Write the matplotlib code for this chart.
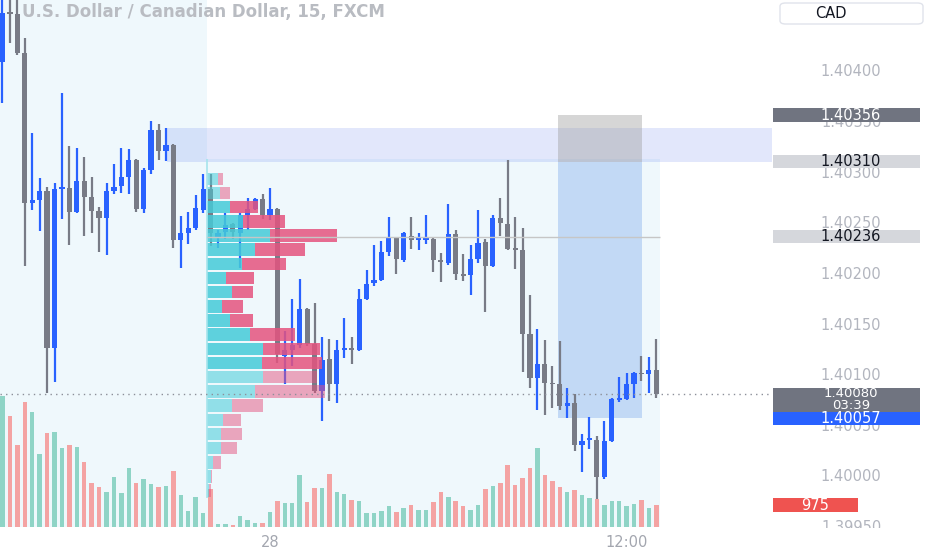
import matplotlib
matplotlib.use("Agg")
import matplotlib.pyplot as plt
import matplotlib.transforms as mtransforms
from matplotlib.patches import Rectangle, FancyBboxPatch

# ---------------- data (USD/CAD, 15 min, FXCM) ----------------
opens = [1.40408, 1.40458, 1.40456, 1.40417, 1.40269, 1.40272, 1.40281, 1.40126, 1.40283, 1.40284,
         1.40260, 1.40291, 1.40275, 1.40261, 1.40254, 1.40281, 1.40286, 1.40295, 1.40312, 1.40263,
         1.40302, 1.40341, 1.40320, 1.40326, 1.40233, 1.40239, 1.40244, 1.40262, 1.40283, 1.40236,
         1.40240, 1.40248, 1.40239, 1.40257, 1.40263, 1.40273, 1.40257, 1.40263, 1.40118, 1.40124,
         1.40129, 1.40164, 1.40130, 1.40083, 1.40115, 1.40090, 1.40124, 1.40125, 1.40124, 1.40174,
         1.40190, 1.40193, 1.40221, 1.40235, 1.40213, 1.40237, 1.40233, 1.40233, 1.40234, 1.40213,
         1.40210, 1.40238, 1.40198, 1.40198, 1.40214, 1.40231, 1.40207, 1.40254, 1.40248, 1.40224,
         1.40223, 1.40140, 1.40096, 1.40110, 1.40091, 1.40090, 1.40069, 1.40072, 1.40030, 1.40035,
         1.40035, 1.39998, 1.40034, 1.40075, 1.40076, 1.40090, 1.40101, 1.40100, 1.40104]
highs = [1.40480, 1.40475, 1.40472, 1.40432, 1.40338, 1.40294, 1.40285, 1.40289, 1.40378, 1.40325,
         1.40323, 1.40315, 1.40295, 1.40265, 1.40289, 1.40308, 1.40323, 1.40322, 1.40313, 1.40304,
         1.40350, 1.40347, 1.40343, 1.40327, 1.40256, 1.40260, 1.40277, 1.40298, 1.40298, 1.40242,
         1.40259, 1.40249, 1.40259, 1.40274, 1.40274, 1.40278, 1.40284, 1.40264, 1.40143, 1.40174,
         1.40194, 1.40165, 1.40170, 1.40137, 1.40135, 1.40134, 1.40156, 1.40137, 1.40184, 1.40203,
         1.40228, 1.40232, 1.40255, 1.40236, 1.40240, 1.40255, 1.40239, 1.40257, 1.40235, 1.40220,
         1.40268, 1.40242, 1.40219, 1.40228, 1.40262, 1.40234, 1.40257, 1.40274, 1.40312, 1.40255,
         1.40244, 1.40178, 1.40145, 1.40134, 1.40108, 1.40133, 1.40086, 1.40080, 1.40041, 1.40058,
         1.40039, 1.40054, 1.40077, 1.40097, 1.40101, 1.40102, 1.40118, 1.40117, 1.40135]
lows = [1.40368, 1.40427, 1.40415, 1.40207, 1.40262, 1.40241, 1.40081, 1.40092, 1.40253, 1.40228,
        1.40259, 1.40237, 1.40239, 1.40221, 1.40218, 1.40278, 1.40279, 1.40278, 1.40260, 1.40259,
        1.40298, 1.40312, 1.40311, 1.40225, 1.40205, 1.40229, 1.40242, 1.40259, 1.40227, 1.40225,
        1.40234, 1.40234, 1.40205, 1.40242, 1.40262, 1.40253, 1.40252, 1.40111, 1.40090, 1.40108,
        1.40126, 1.40128, 1.40081, 1.40054, 1.40074, 1.40072, 1.40116, 1.40110, 1.40123, 1.40173,
        1.40187, 1.40192, 1.40217, 1.40199, 1.40211, 1.40224, 1.40223, 1.40229, 1.40201, 1.40191,
        1.40208, 1.40193, 1.40192, 1.40178, 1.40210, 1.40161, 1.40206, 1.40237, 1.40223, 1.40204,
        1.40102, 1.40086, 1.40065, 1.40060, 1.40067, 1.40065, 1.40057, 1.40024, 1.40003, 1.40026,
        1.39977, 1.39997, 1.40033, 1.40073, 1.40075, 1.40077, 1.40093, 1.40081, 1.40077]
closes = [1.40457, 1.40456, 1.40417, 1.40269, 1.40272, 1.40281, 1.40126, 1.40283, 1.40284, 1.40260,
          1.40291, 1.40275, 1.40261, 1.40254, 1.40281, 1.40285, 1.40295, 1.40312, 1.40263, 1.40302,
          1.40341, 1.40320, 1.40326, 1.40233, 1.40239, 1.40244, 1.40264, 1.40283, 1.40239, 1.40239,
          1.40247, 1.40240, 1.40257, 1.40263, 1.40273, 1.40257, 1.40263, 1.40120, 1.40124, 1.40129,
          1.40164, 1.40130, 1.40083, 1.40114, 1.40090, 1.40124, 1.40125, 1.40124, 1.40174, 1.40189,
          1.40193, 1.40221, 1.40235, 1.40214, 1.40239, 1.40233, 1.40235, 1.40235, 1.40213, 1.40211,
          1.40238, 1.40199, 1.40197, 1.40214, 1.40230, 1.40207, 1.40254, 1.40249, 1.40224, 1.40223,
          1.40140, 1.40096, 1.40110, 1.40091, 1.40090, 1.40069, 1.40072, 1.40030, 1.40034, 1.40036,
          1.39998, 1.40034, 1.40076, 1.40077, 1.40090, 1.40101, 1.40100, 1.40104, 1.40080]
volumes = [5800, 4920, 3630, 5540, 5100, 3230, 4170, 4210, 3500, 3630,
           3540, 2880, 1950, 1770, 1550, 2220, 1510, 2610, 1950, 2130,
           1900, 1770, 1820, 2480, 1420, 710, 1330, 620, 1680, 130,
           130, 90, 490, 310, 180, 180, 660, 1150, 1060, 1060,
           2300, 1110, 1730, 1730, 2350, 1550, 1460, 1200, 1150, 620,
           620, 710, 930, 660, 840, 970, 750, 750, 1110, 1550,
           1330, 1150, 930, 750, 975, 1680, 1820, 1950, 2750, 1860,
           2170, 2610, 3500, 2300, 2040, 1770, 1550, 1640, 1420, 1280,
           1240, 975, 1150, 1150, 930, 1020, 1200, 840, 975]

time_tick_bars = [36, 84]
time_tick_labels = ["28", "12:00"]
price_ticks = [1.39950, 1.40000, 1.40050, 1.40100, 1.40150, 1.40200,
               1.40250, 1.40300, 1.40350, 1.40400]

# Fixed-range volume profile (rows from top to bottom)
vp_start_bar = 27.5
vp_end_bar = 88.5
vp_high = 1.40313
vp_row_prices = [1.40293, 1.40279, 1.40265, 1.40251, 1.40237, 1.40223, 1.40209, 1.40195,
                 1.40181, 1.40167, 1.40153, 1.40139, 1.40125, 1.40111, 1.40097, 1.40083,
                 1.40069, 1.40055, 1.40041, 1.40027, 1.40013, 1.39999, 1.39985]
vp_row_step = 0.00014
vp_up = [11, 13, 23, 36, 63, 48, 35, 19, 25, 15, 23, 43, 56, 55, 56, 48, 25, 16, 14, 14, 6, 4, 2]
vp_down = [5, 10, 28, 42, 67, 50, 44, 28, 21, 21, 23, 45, 57, 60, 54, 70, 31, 18, 21, 16, 8, 1, 2]
vp_value_area = [False, False, True, True, True, True, True, True, True, True, True, True,
                 True, True, False, False, False, False, False, False, False, False, False]
poc_price = 1.40236

# Drawings
zone_start_bar = 22.2
zone_low, zone_high = 1.40310, 1.40343
pos_start_bar, pos_end_bar = 74.8, 86.1
pos_stop, pos_entry, pos_target = 1.40356, 1.40310, 1.40057
last_price = 1.40080
countdown = "03:39"
last_volume = 975

# ---------------- layout ----------------
W, H = 932, 550
fig = plt.figure(figsize=(W / 100, H / 100), dpi=100)
fig.patch.set_facecolor("white")
plot_right = 772
plot_bottom = 527
rect = [0, 1 - plot_bottom / H, plot_right / W, plot_bottom / H]

ax_bg = fig.add_axes(rect, zorder=0)
ax_vol = fig.add_axes(rect, zorder=1)
ax = fig.add_axes(rect, zorder=2)

xlim = (-0.336, 103.57)
ylim = (1.399491, 1.404696)
for a in (ax_bg, ax_vol, ax):
    a.set_xlim(*xlim)
    for s in a.spines.values():
        s.set_visible(False)
    a.patch.set_alpha(0)
ax_bg.set_ylim(*ylim)
ax.set_ylim(*ylim)
ax_vol.set_ylim(0, last_volume / 22 * plot_bottom)
for a in (ax_bg, ax_vol):
    a.set_xticks([])
    a.set_yticks([])

BG = "#eff8fc"
UP = "#2962ff"
DOWN = "#787b86"
VUP = "#8fd4c6"
VDOWN = "#f4a3a3"

# background shading
ax_bg.add_patch(Rectangle((xlim[0], ylim[0]), vp_start_bar - xlim[0], ylim[1] - ylim[0],
                          facecolor=BG, edgecolor="none"))
ax_bg.add_patch(Rectangle((vp_start_bar, ylim[0]), vp_end_bar - vp_start_bar, vp_high - ylim[0],
                          facecolor=BG, edgecolor="none"))

# volume bars
idx = list(range(len(opens)))
vcol = [VUP if c >= o else VDOWN for o, c in zip(opens, closes)]
ax_vol.bar(idx, volumes, width=0.6, color=vcol, linewidth=0)

# zone and position box
ax.add_patch(Rectangle((zone_start_bar, zone_low), xlim[1] - zone_start_bar, zone_high - zone_low,
                       facecolor="#3f5fe8", alpha=0.15, edgecolor="none", zorder=1))
ax.add_patch(Rectangle((pos_start_bar, pos_entry), pos_end_bar - pos_start_bar, pos_stop - pos_entry,
                       facecolor="#9a9a9a", alpha=0.4, edgecolor="none", zorder=1.5))
ax.add_patch(Rectangle((pos_start_bar, pos_target), pos_end_bar - pos_start_bar, pos_entry - pos_target,
                       facecolor="#9ec0f0", alpha=0.55, edgecolor="none", zorder=1.5))

# candles
ccol = [UP if c >= o else DOWN for o, c in zip(opens, closes)]
ax.vlines(idx, lows, highs, colors=ccol, linewidth=1.6, zorder=3)
body_h = [max(abs(c - o), 0.000016) for o, c in zip(opens, closes)]
body_b = [min(o, c) for o, c in zip(opens, closes)]
ax.bar(idx, body_h, bottom=body_b, width=0.7, color=ccol, linewidth=0, zorder=3)

# volume profile
vp_scale = 17.5 / max(u + d for u, d in zip(vp_up, vp_down))
for p, u, d, va in zip(vp_row_prices, vp_up, vp_down, vp_value_area):
    a_up = 0.85 if va else 0.55
    a_dn = 0.85 if va else 0.5
    ax.barh(p, u * vp_scale, left=vp_start_bar, height=vp_row_step * 0.88,
            color="#45cbd8", alpha=a_up, linewidth=0, zorder=4)
    ax.barh(p, d * vp_scale, left=vp_start_bar + u * vp_scale, height=vp_row_step * 0.88,
            color="#e5537f", alpha=a_dn, linewidth=0, zorder=4)
ax.vlines(vp_start_bar, vp_row_prices[-1] - vp_row_step / 2, vp_high,
          colors="#a6e4ec", linewidth=1.2, zorder=4)
ax.hlines(poc_price, vp_start_bar, vp_end_bar, colors="#c6c6c6", linewidth=1, zorder=5)

# last price dotted line
ax.axhline(last_price, color="#8c8f99", linewidth=1, linestyle=(0, (1, 3)), zorder=5)

# axes ticks
ax.yaxis.tick_right()
ax.set_yticks(price_ticks)
ax.set_yticklabels([f"{p:.5f}" for p in price_ticks])
ax.tick_params(axis="y", length=0, pad=57, labelsize=10.5, labelcolor="#b2b5be")
for lab in ax.get_yticklabels():
    lab.set_horizontalalignment("center")
ax.set_xticks(time_tick_bars)
ax.set_xticklabels(time_tick_labels)
ax.tick_params(axis="x", length=0, pad=6, labelsize=10.5, labelcolor="#a3a6af")

# price-scale labels
trans = mtransforms.blended_transform_factory(fig.transFigure, ax.transData)
bx0, bw, tx = 773 / W, 147 / W, 851 / W
half = 0.000065


def price_box(lo, hi, face):
    ax.add_patch(Rectangle((bx0, lo), bw, hi - lo, transform=trans, facecolor=face,
                           edgecolor="none", clip_on=False, zorder=6))


def box_text(y, s, color, size=10.5):
    ax.text(tx, y, s, transform=trans, ha="center", va="center", color=color,
            fontsize=size, clip_on=False, zorder=7)


price_box(pos_stop - half, pos_stop + half, "#707480")
box_text(pos_stop, f"{pos_stop:.5f}", "white")
price_box(pos_entry - half, pos_entry + half, "#d5d7dc")
box_text(pos_entry, f"{pos_entry:.5f}", "#131722")
price_box(poc_price - half, poc_price + half, "#d5d7dc")
box_text(poc_price, f"{poc_price:.5f}", "#131722")
price_box(last_price - 0.00017, last_price + 0.000065, "#707480")
box_text(last_price + 0.000005, f"{last_price:.5f}", "white", 9.5)
box_text(last_price - 0.000105, countdown, "white", 9.5)
price_box(last_price - 0.0003, last_price - 0.00017, UP)
box_text(pos_target - 0.000005, f"{pos_target:.5f}", "white")

vtrans = mtransforms.blended_transform_factory(fig.transFigure, ax_vol.transData)
vh = 7 * last_volume / 22
ax_vol.add_patch(Rectangle((bx0, last_volume - vh), 85 / W, 2 * vh, transform=vtrans,
                           facecolor="#ef5350", edgecolor="none", clip_on=False, zorder=6))
ax_vol.text(815 / W, last_volume, str(last_volume), transform=vtrans, ha="center", va="center",
            color="white", fontsize=10.5, clip_on=False, zorder=7)

# cover for the time-scale strip under the price scale
fig.add_artist(Rectangle((plot_right / W, 0), (W - plot_right) / W, (H - plot_bottom - 1) / H,
                         transform=fig.transFigure, facecolor="white", edgecolor="none", zorder=3))

# currency button
fig.add_artist(FancyBboxPatch((780 / W, 1 - 24 / H), 143 / W, 21 / H,
                              boxstyle="round,pad=0,rounding_size=0.006",
                              transform=fig.transFigure, facecolor="white",
                              edgecolor="#e0e3eb", linewidth=1, zorder=4))
fig.text(831 / W, 1 - 13.5 / H, "CAD", ha="center", va="center", fontsize=10.5,
         color="#131722", zorder=5)

# title
fig.text(22 / W, 1 - 12 / H, "U.S. Dollar / Canadian Dollar, 15, FXCM", ha="left", va="center",
         fontsize=12, fontweight="bold", color="#b9bcc2", zorder=10)

fig.savefig("out.png", dpi=100, facecolor="white")
